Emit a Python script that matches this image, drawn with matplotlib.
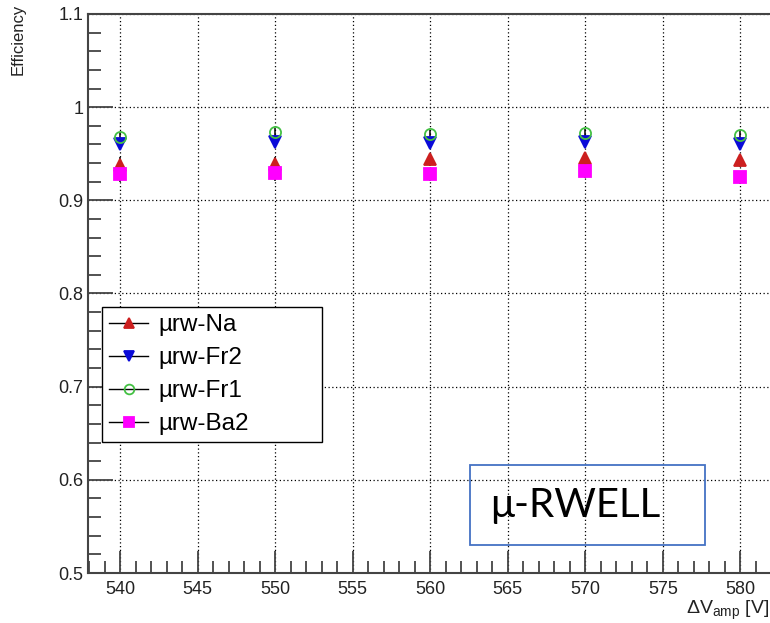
import numpy as np
import matplotlib
matplotlib.use("Agg")
import matplotlib.pyplot as plt
from matplotlib.ticker import MultipleLocator, FormatStrFormatter
from matplotlib.patches import Rectangle
from matplotlib.lines import Line2D

plt.rcParams['font.family'] = ['Liberation Sans', 'DejaVu Sans']
plt.rcParams['mathtext.fontset'] = 'custom'
plt.rcParams['mathtext.rm'] = 'Liberation Sans'

# data
voltage = [540, 550, 560, 570, 580]
eff_na = [0.938, 0.939, 0.944, 0.945, 0.943]
eff_fr2 = [0.960, 0.963, 0.962, 0.963, 0.961]
eff_fr1 = [0.968, 0.973, 0.971, 0.972, 0.970]
eff_ba2 = [0.928, 0.929, 0.928, 0.931, 0.925]
err_na = [0.008, 0.008, 0.007, 0.007, 0.007]
err_fr2 = [0.005, 0.005, 0.005, 0.005, 0.005]
err_fr1 = [0.005, 0.005, 0.005, 0.005, 0.005]
err_ba2 = [0.008, 0.008, 0.007, 0.007, 0.007]

W, H = 770, 623
fig = plt.figure(figsize=(W / 100, H / 100), dpi=100)
ax = fig.add_axes([88 / W, 50 / H, (790 - 88) / W, (573 - 14) / H])

series = [
    ("\u00b5rw-Na", eff_na, err_na, "^", "#cc1f1f", "#cc1f1f"),
    ("\u00b5rw-Fr2", eff_fr2, err_fr2, "v", "#0a0ad8", "#0a0ad8"),
    ("\u00b5rw-Fr1", eff_fr1, err_fr1, "o", "none", "#44c044"),
    ("\u00b5rw-Ba2", eff_ba2, err_ba2, "s", "#ff00ff", "#ff00ff"),
]
for label, vals, errs, mk, fc, ec in series:
    ax.errorbar(voltage, vals, yerr=errs, fmt=mk, ms=8, mfc=fc, mec=ec,
                mew=1.3, ecolor="black", elinewidth=1.1, capsize=0,
                color="black", label=label, zorder=3)

ax.set_xlim(537.93, 583.2)
ax.set_ylim(0.5, 1.1)
ax.xaxis.set_major_locator(MultipleLocator(5))
ax.xaxis.set_minor_locator(MultipleLocator(1))
ax.yaxis.set_major_locator(MultipleLocator(0.1))
ax.yaxis.set_minor_locator(MultipleLocator(0.02))
ax.yaxis.set_major_formatter(FormatStrFormatter('%g'))
ax.grid(True, which='major', linestyle=(0, (1, 2)), color='black', linewidth=0.9)
ax.tick_params(which='both', direction='in', colors='#444444', labelcolor='#222222',
               labelsize=13, width=1.3)
ax.tick_params(which='major', length=16)
ax.tick_params(which='minor', length=9)
ax.tick_params(axis='y', which='major', length=18)
ax.tick_params(axis='y', which='minor', length=9)
ax.tick_params(axis='x', pad=6)
for s in ax.spines.values():
    s.set_color('#444444')
    s.set_linewidth(1.5)

# legend drawn with black lines through the markers, box stretched like ROOT's TLegend
leg_handles = [Line2D([0], [0], color='black', lw=1.0, marker=mk, ms=7, mfc=fc, mec=ec, mew=1.3)
               for _, _, _, mk, fc, ec in series]
ax_w, ax_h = 790 - 88, 573 - 14
leg = ax.legend(leg_handles, [s[0] for s in series], loc='upper left', mode='expand',
                bbox_to_anchor=((102 - 88) / ax_w, (573 - 441) / ax_h,
                                (322 - 102) / ax_w, (441 - 307) / ax_h),
                borderaxespad=0, fontsize=17.5, frameon=True, fancybox=False,
                edgecolor='black', framealpha=1, handlelength=1.6,
                handletextpad=0.4, labelspacing=0.45, borderpad=0.3)
leg.get_frame().set_linewidth(1.0)

# annotation box
fig.patches.append(Rectangle((470 / W, 1 - 545 / H), (705 - 470) / W, (545 - 465) / H,
                             transform=fig.transFigure, fill=False,
                             edgecolor='#4472c4', linewidth=1.3, zorder=5))
fig.text(490 / W, 1 - 506 / H, "\u03bc-RWELL", fontsize=29, family=['Lato', 'DejaVu Sans'],
         ha='left', va='center', color='black')

fig.text(18 / W, 1 - 4 / H, "Efficiency", rotation=90, ha='center', va='top',
         fontsize=12, color='#222222')
fig.text(0.999, 1 - 610 / H, r"$\Delta$V$_{\rm amp}$ [V]", ha='right', va='center',
         fontsize=14, color='#222222')

fig.savefig("out.png", dpi=100)
